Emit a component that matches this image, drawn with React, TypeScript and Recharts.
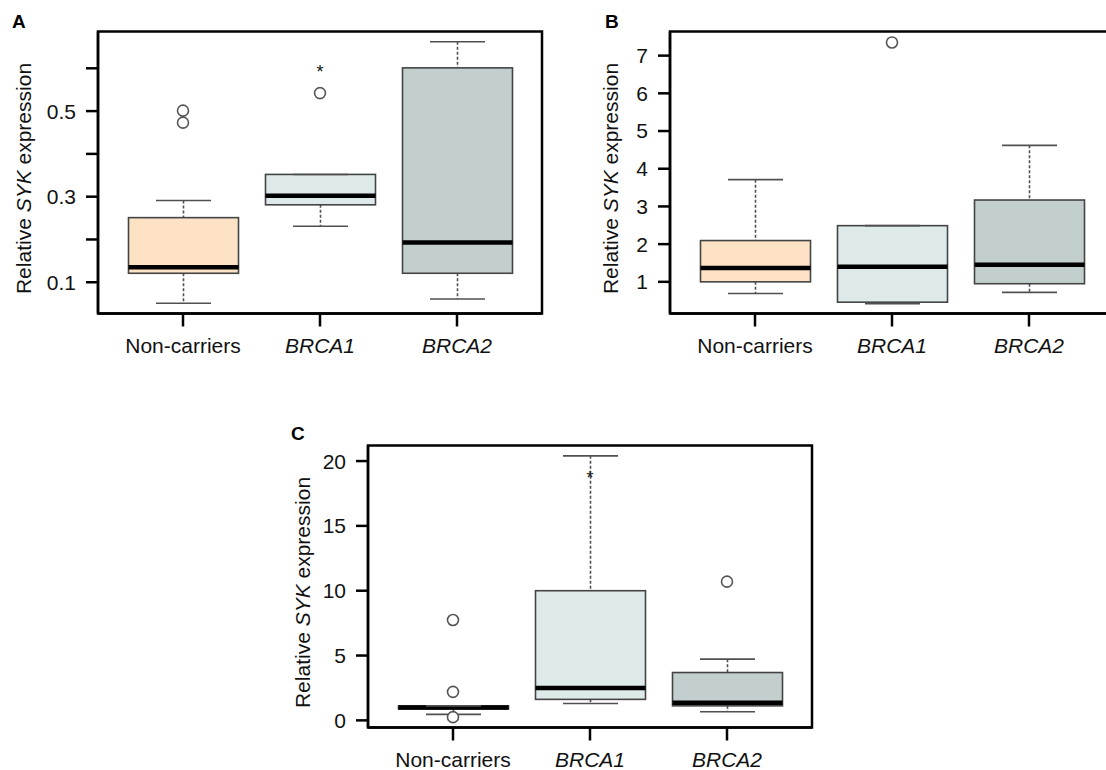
import React from 'react';
import { ComposedChart, Bar, Scatter, XAxis, YAxis, ReferenceArea } from 'recharts';

// ---------- shared ----------
const categories = ['Non-carriers', 'BRCA1', 'BRCA2'];
const italicCategories = ['BRCA1', 'BRCA2'];
const boxFills = ['#FDE2C6', '#DEEAEA', '#C3CFCE'];
const FONT = '"Liberation Sans", Arial, Helvetica, sans-serif';

// ---------- panel A ----------
const aWhiskerLow = [0.051, 0.231, 0.061];
const aQ1 = [0.121, 0.281, 0.121];
const aMedian = [0.135, 0.302, 0.193];
const aQ3 = [0.251, 0.352, 0.601];
const aWhiskerHigh = [0.291, 0.352, 0.662];
const aOutlierCats = ['Non-carriers', 'Non-carriers', 'BRCA1'];
const aOutlierValues = [0.501, 0.473, 0.542];
const aStarCats = ['BRCA1'];
const aStarValues = [0.6];
const aTicks = [0.1, 0.2, 0.3, 0.4, 0.5, 0.6];
const aTickLabels = ['0.1', '', '0.3', '', '0.5', ''];
const aDomain = [0.027, 0.686];

// ---------- panel B ----------
const bWhiskerLow = [0.69, 0.42, 0.72];
const bQ1 = [1.0, 0.46, 0.95];
const bMedian = [1.37, 1.4, 1.45];
const bQ3 = [2.095, 2.49, 3.17];
const bWhiskerHigh = [3.71, 2.49, 4.62];
const bOutlierCats = ['BRCA1'];
const bOutlierValues = [7.35];
const bStarCats: string[] = [];
const bStarValues: number[] = [];
const bTicks = [1, 2, 3, 4, 5, 6, 7];
const bTickLabels = ['1', '2', '3', '4', '5', '6', '7'];
const bDomain = [0.16, 7.64];

// ---------- panel C ----------
const cWhiskerLow = [0.46, 1.3, 0.66];
const cQ1 = [0.88, 1.62, 1.12];
const cMedian = [1.0, 2.5, 1.35];
const cQ3 = [1.12, 10.0, 3.69];
const cWhiskerHigh = [1.12, 20.4, 4.72];
const cOutlierCats = ['Non-carriers', 'Non-carriers', 'Non-carriers', 'BRCA2'];
const cOutlierValues = [7.74, 2.2, 0.25, 10.7];
const cStarCats = ['BRCA1'];
const cStarValues = [19.0];
const cTicks = [0, 5, 10, 15, 20];
const cTickLabels = ['0', '5', '10', '15', '20'];
const cDomain = [-0.55, 21.2];

function buildRows(lo: number[], q1: number[], med: number[], q3: number[], hi: number[]) {
  return categories.map((cat, i) => ({ cat, lo: lo[i], q1: q1[i], med: med[i], q3: q3[i], hi: hi[i] }));
}
function buildPoints(cats: string[], vals: number[]) {
  return cats.map((cat, i) => ({ cat, v: vals[i] }));
}

const BoxShape = (props: any) => {
  const { x, y, width, height, payload } = props;
  if (!payload) return null;
  const top = Math.min(y, y + height);
  const bottom = Math.max(y, y + height);
  const span = payload.hi - payload.lo;
  const py = (v: number) => bottom - ((v - payload.lo) / span) * (bottom - top);
  const cx = x + width / 2;
  const capHalf = width / 4;
  const idx = categories.indexOf(payload.cat);
  const fill = boxFills[idx >= 0 ? idx : 0];
  const wc = '#505050';
  return (
    <g>
      <line x1={cx} x2={cx} y1={py(payload.hi)} y2={py(payload.q3)} stroke={wc} strokeWidth={1.6} strokeDasharray="3 2" />
      <line x1={cx} x2={cx} y1={py(payload.q1)} y2={py(payload.lo)} stroke={wc} strokeWidth={1.6} strokeDasharray="3 2" />
      <rect x={x} y={py(payload.q3)} width={width} height={py(payload.q1) - py(payload.q3)} fill={fill} stroke="#444" strokeWidth={1.6} />
      <line x1={x} x2={x + width} y1={py(payload.med)} y2={py(payload.med)} stroke="#000" strokeWidth={4.5} />
      <line x1={cx - capHalf} x2={cx + capHalf} y1={py(payload.hi)} y2={py(payload.hi)} stroke={wc} strokeWidth={1.6} />
      <line x1={cx - capHalf} x2={cx + capHalf} y1={py(payload.lo)} y2={py(payload.lo)} stroke={wc} strokeWidth={1.6} />
    </g>
  );
};

const OutlierShape = (props: any) => {
  const { cx, cy } = props;
  if (cx == null || cy == null) return null;
  return <circle cx={cx} cy={cy} r={5.5} fill="#fff" stroke="#555" strokeWidth={1.6} />;
};

const StarShape = (props: any) => {
  const { cx, cy } = props;
  if (cx == null || cy == null) return null;
  return (
    <text x={cx} y={cy + 10} textAnchor="middle" fontSize={18} fontFamily={FONT} fill="#111">*</text>
  );
};

const XTick = (props: any) => {
  const { x, y, payload } = props;
  const it = italicCategories.includes(payload.value);
  return (
    <text x={x} y={y} dy="0.71em" textAnchor="middle" fontSize={21} fontFamily={FONT} fill="#111" fontStyle={it ? 'italic' : 'normal'}>
      {payload.value}
    </text>
  );
};

const makeYLabel = (dx: number) => (p: any) => {
  const vb = p.viewBox || {};
  const x = (vb.x || 0) + dx;
  const y = (vb.y || 0) + (vb.height || 0) / 2 + 6;
  return (
    <text transform={`translate(${x},${y}) rotate(-90)`} textAnchor="middle" dominantBaseline="central" fontSize={21} fontFamily={FONT} fill="#111">
      {'Relative '}<tspan fontStyle="italic">SYK</tspan>{' expression'}
    </text>
  );
};

type PanelProps = {
  left: number; top: number;
  rows: any[]; outliers: any[]; stars: any[];
  ticks: number[]; tickLabels: string[]; domain: number[];
  labelDx: number;
};

const axisStroke = { stroke: '#000', strokeWidth: 2.5 };

const Panel = ({ left, top, rows, outliers, stars, ticks, tickLabels, domain, labelDx }: PanelProps) => (
  <div style={{ position: 'absolute', left, top }}>
    <ComposedChart width={548} height={370} data={rows} margin={{ top: 31.5, right: 6, bottom: 0, left: 0 }}>
      <XAxis
        dataKey="cat" type="category" allowDuplicatedCategory={false}
        padding={{ left: 16.5, right: 16.5 }} height={56.5}
        tickSize={13} tickMargin={12} interval={0}
        axisLine={axisStroke} tickLine={axisStroke} tick={<XTick />}
      />
      <XAxis xAxisId="frame" dataKey="cat" type="category" allowDuplicatedCategory={false} hide />
      <YAxis
        type="number" domain={domain} allowDataOverflow ticks={ticks} interval={0}
        tickFormatter={(v: number) => { const i = ticks.findIndex((t) => Math.abs(t - v) < 1e-9); return i >= 0 ? tickLabels[i] : ''; }}
        width={98} tickSize={12} tickMargin={10}
        axisLine={axisStroke} tickLine={axisStroke}
        tick={{ fontSize: 21, fill: '#111', fontFamily: FONT }}
        label={{ content: makeYLabel(labelDx) }}
      />
      <YAxis yAxisId="frame" orientation="right" type="number" domain={[0, 1]} allowDataOverflow hide />
      <ReferenceArea xAxisId="frame" yAxisId="frame" y1={0} y2={1} fill="none" fillOpacity={0} stroke="#000" strokeWidth={2.5} strokeOpacity={1} ifOverflow="visible" />
      <Bar dataKey={(d: any) => [d.lo, d.hi]} barSize={110} shape={BoxShape} isAnimationActive={false} />
      <Scatter data={outliers} dataKey="v" shape={OutlierShape} isAnimationActive={false} />
      {stars.length > 0 && <Scatter data={stars} dataKey="v" shape={StarShape} isAnimationActive={false} />}
    </ComposedChart>
  </div>
);

const PanelLetter = ({ text, left, top }: { text: string; left: number; top: number }) => (
  <div style={{ position: 'absolute', left, top, fontFamily: FONT, fontWeight: 'bold', fontSize: 19, lineHeight: '19px', color: '#000' }}>{text}</div>
);

export default function App() {
  return (
    <div style={{ position: 'absolute', left: 0, top: 0, width: 1106, height: 770, overflow: 'hidden', background: '#fff' }}>
      <Panel left={0} top={0}
        rows={buildRows(aWhiskerLow, aQ1, aMedian, aQ3, aWhiskerHigh)}
        outliers={buildPoints(aOutlierCats, aOutlierValues)}
        stars={buildPoints(aStarCats, aStarValues)}
        ticks={aTicks} tickLabels={aTickLabels} domain={aDomain} labelDx={23} />
      <Panel left={572} top={0}
        rows={buildRows(bWhiskerLow, bQ1, bMedian, bQ3, bWhiskerHigh)}
        outliers={buildPoints(bOutlierCats, bOutlierValues)}
        stars={buildPoints(bStarCats, bStarValues)}
        ticks={bTicks} tickLabels={bTickLabels} domain={bDomain} labelDx={38} />
      <Panel left={270} top={413.5}
        rows={buildRows(cWhiskerLow, cQ1, cMedian, cQ3, cWhiskerHigh)}
        outliers={buildPoints(cOutlierCats, cOutlierValues)}
        stars={buildPoints(cStarCats, cStarValues)}
        ticks={cTicks} tickLabels={cTickLabels} domain={cDomain} labelDx={32} />
      <PanelLetter text="A" left={12} top={12} />
      <PanelLetter text="B" left={605} top={12} />
      <PanelLetter text="C" left={291} top={424} />
    </div>
  );
}
